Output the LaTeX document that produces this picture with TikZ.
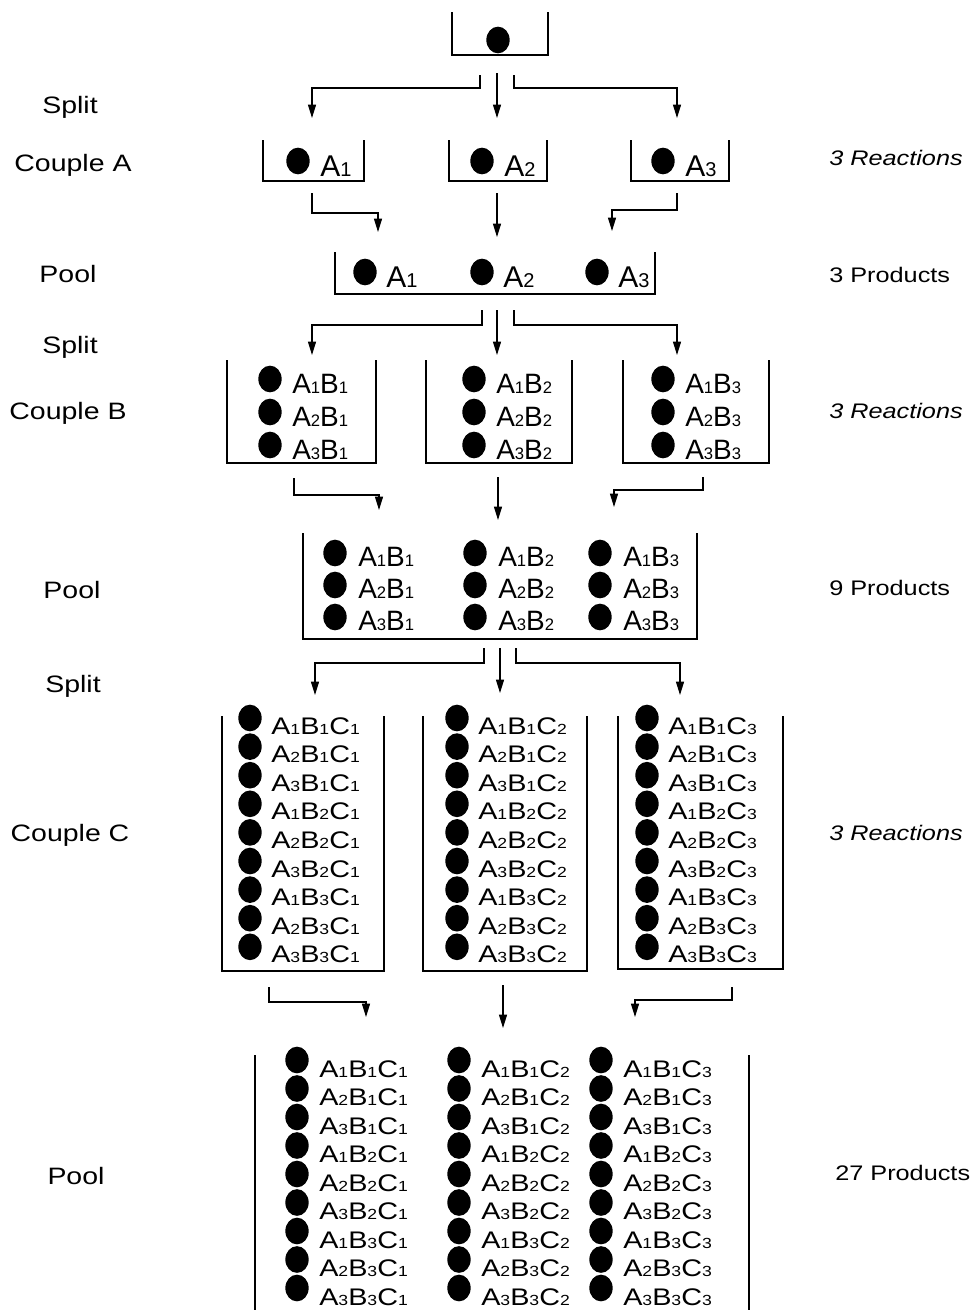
\documentclass[tikz,border=0pt]{standalone}
\usepackage{fontspec}
\setmainfont{Liberation Sans}
\newfontfamily\wide{Liberation Sans}[FakeStretch=1.2]
\usetikzlibrary{arrows.meta,shapes.geometric}
\newcommand{\subpt}{12}
\newcommand{\sm}[1]{{\fontsize{\subpt}{\subpt}\selectfont #1}}
\tikzset{
  dot/.style={ellipse, fill=black, inner sep=0pt, minimum width=17.5pt, minimum height=20pt},
  bucket/.style={line width=0.9pt},
  flow/.style={line width=0.9pt, -{Triangle[length=10pt,width=6pt]}},
  stage/.style={anchor=base, inner sep=0pt, font=\wide\fontsize{17.8}{20}\selectfont},
  tally/.style={anchor=base west, inner sep=0pt, font=\wide\fontsize{15.8}{18}\selectfont},
  molA/.style={anchor=base west, inner sep=0pt, font=\def\subpt{15}\fontsize{22.5}{24}\selectfont},
  molB/.style={anchor=base west, inner sep=0pt, font=\def\subpt{12.5}\fontsize{21}{24}\selectfont},
  molC/.style={anchor=base west, inner sep=0pt, font=\def\subpt{11}\wide\fontsize{18}{20}\selectfont}
}
\begin{document}
\begin{tikzpicture}[x=0.75pt, y=-0.75pt]
  \useasboundingbox (0,0) rectangle (970,1310);

  % stage names on the left
  \node[stage] (split1) at (70,113) {Split};
  \node[stage] (coupA) at (73,171) {Couple A};
  \node[stage] (pool1) at (68,282) {Pool};
  \node[stage] (split2) at (70,353) {Split};
  \node[stage] (coupB) at (68,419) {Couple B};
  \node[stage] (pool2) at (72,598) {Pool};
  \node[stage] (split3) at (73,692) {Split};
  \node[stage] (coupC) at (70,841) {Couple C};
  \node[stage] (pool3) at (76,1184) {Pool};

  % counts on the right
  \node[tally] (tal1) at (829,165) {\itshape 3 Reactions};
  \node[tally] (tal2) at (829,282) {3 Products};
  \node[tally] (tal3) at (829,418) {\itshape 3 Reactions};
  \node[tally] (tal4) at (829,595) {9 Products};
  \node[tally] (tal5) at (829,840) {\itshape 3 Reactions};
  \node[tally] (tal6) at (835,1180) {27 Products};

  % buckets
  \draw[bucket] (452,12) |- (548,55) -- (548,12);
  \draw[bucket] (263,140) |- (364,181) -- (364,140);
  \draw[bucket] (449,140) |- (547,181) -- (547,140);
  \draw[bucket] (631,140) |- (729,181) -- (729,140);
  \draw[bucket] (335,252) |- (655,294) -- (655,252);
  \draw[bucket] (227,360) |- (376,463) -- (376,360);
  \draw[bucket] (426,360) |- (572,463) -- (572,360);
  \draw[bucket] (623,360) |- (769,463) -- (769,360);
  \draw[bucket] (303,533) |- (697,639) -- (697,533);
  \draw[bucket] (222,716) |- (384,971) -- (384,716);
  \draw[bucket] (423,716) |- (587,971) -- (587,716);
  \draw[bucket] (618,716) |- (783,969) -- (783,716);
  \draw[bucket] (255,1055) -- (255,1310);
  \draw[bucket] (749,1055) -- (749,1310);

  % beads
  \node[dot] (d0) at (498,40) {};
  \foreach \i/\x in {1/298,2/482,3/663} {
    \node[dot] (da\i) at (\x,161) {};
    \node[molA] (ta\i) at ({\x+22},176) {A\sm{\i}};
  }
  \foreach \i/\x in {1/365,2/482,3/597} {
    \node[dot] (dpa\i) at (\x,272) {};
    \node[molA] (tpa\i) at ({\x+21},287) {A\sm{\i}};
  }
  \foreach \j/\x in {1/270,2/474,3/663}
    \foreach \i/\y in {1/379,2/412,3/445} {
      \node[dot] (db\i\j) at (\x,\y) {};
      \node[molB] (tb\i\j) at ({\x+22},{\y+14}) {A\sm{\i}B\sm{\j}};
    }
  \foreach \j/\x in {1/335,2/475,3/600}
    \foreach \i/\y in {1/553,2/585,3/617} {
      \node[dot] (dpb\i\j) at (\x,\y) {};
      \node[molB] (tpb\i\j) at ({\x+23},{\y+13}) {A\sm{\i}B\sm{\j}};
    }
  \foreach \k/\x in {1/250,2/457,3/647}
    \foreach \j in {1,2,3}
      \foreach \i in {1,2,3} {
        \pgfmathsetmacro{\y}{718+28.6*(3*\j+\i-4)}
        \node[dot] (dc\i\j\k) at (\x,\y) {};
        \node[molC] (tc\i\j\k) at ({\x+21},{\y+16}) {A\sm{\i}B\sm{\j}C\sm{\k}};
      }
  \foreach \k/\x in {1/297,2/459,3/601}
    \foreach \j in {1,2,3}
      \foreach \i in {1,2,3} {
        \pgfmathsetmacro{\y}{1060+28.5*(3*\j+\i-4)}
        \node[dot] (dpc\i\j\k) at (\x,\y) {};
        \node[molC] (tpc\i\j\k) at ({\x+22},{\y+17}) {A\sm{\i}B\sm{\j}C\sm{\k}};
      }

  % arrow ends
  \coordinate (s1l) at (480,75);  \coordinate (s1m) at (497,73);  \coordinate (s1r) at (514,75);
  \coordinate (e1l) at (312,118); \coordinate (e1m) at (497,118); \coordinate (e1r) at (677,118);
  \coordinate (g1l) at (312,193); \coordinate (g1m) at (497,193); \coordinate (g1r) at (677,193);
  \coordinate (h1l) at (378,232); \coordinate (h1m) at (497,237); \coordinate (h1r) at (612,231);
  \coordinate (s2l) at (482,310); \coordinate (s2m) at (497,310); \coordinate (s2r) at (514,310);
  \coordinate (e2l) at (312,355); \coordinate (e2m) at (497,355); \coordinate (e2r) at (677,355);
  \coordinate (g2l) at (294,478); \coordinate (g2m) at (498,477); \coordinate (g2r) at (703,477);
  \coordinate (h2l) at (379,510); \coordinate (h2m) at (498,520); \coordinate (h2r) at (614,507);
  \coordinate (s3l) at (484,648); \coordinate (s3m) at (500,648); \coordinate (s3r) at (516,648);
  \coordinate (e3l) at (315,695); \coordinate (e3m) at (500,693); \coordinate (e3r) at (680,695);
  \coordinate (g3l) at (269,987); \coordinate (g3m) at (503,985); \coordinate (g3r) at (732,987);
  \coordinate (h3l) at (366,1017); \coordinate (h3m) at (503,1028); \coordinate (h3r) at (635,1017);

  % split and pool arrows
  \draw[flow] (s1l) -- ++(0,13) -| (e1l);
  \draw[flow] (s1m) -- (e1m);
  \draw[flow] (s1r) -- ++(0,13) -| (e1r);
  \draw[flow] (g1l) -- ++(0,20) -| (h1l);
  \draw[flow] (g1m) -- (h1m);
  \draw[flow] (g1r) -- ++(0,17) -| (h1r);
  \draw[flow] (s2l) -- ++(0,15) -| (e2l);
  \draw[flow] (s2m) -- (e2m);
  \draw[flow] (s2r) -- ++(0,15) -| (e2r);
  \draw[flow] (g2l) -- ++(0,17) -| (h2l);
  \draw[flow] (g2m) -- (h2m);
  \draw[flow] (g2r) -- ++(0,13) -| (h2r);
  \draw[flow] (s3l) -- ++(0,15) -| (e3l);
  \draw[flow] (s3m) -- (e3m);
  \draw[flow] (s3r) -- ++(0,15) -| (e3r);
  \draw[flow] (g3l) -- ++(0,15) -| (h3l);
  \draw[flow] (g3m) -- (h3m);
  \draw[flow] (g3r) -- ++(0,13) -| (h3r);
\end{tikzpicture}
\end{document}
